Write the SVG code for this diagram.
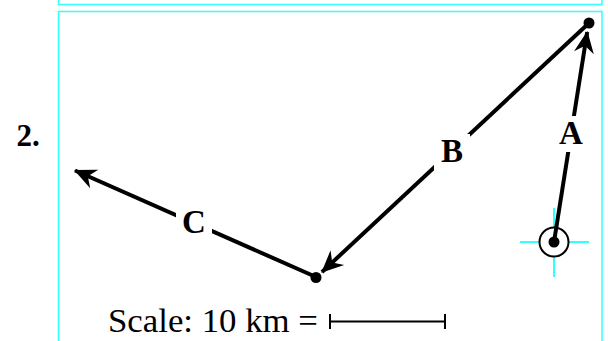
<svg xmlns="http://www.w3.org/2000/svg" width="608" height="341" viewBox="0 0 608 341">
<style>
.frame{fill:none;stroke:#33ffff;stroke-width:1.5}
.vec{stroke:#000;stroke-width:4;fill:none}
.bg{fill:#fff}
.cross{stroke:#33ffff;stroke-width:2}
</style>
<defs>
<marker id="arr" markerUnits="userSpaceOnUse" viewBox="-25 -12 27 24" refX="0" refY="0" markerWidth="27" markerHeight="24" orient="auto">
<path d="M1,0 L-21,-10 L-14,0 L-21,10 Z" fill="#000"/>
</marker>
</defs>
<g id="frames">
<rect class="frame" x="58.5" y="-10" width="543.5" height="14.5"/>
<rect class="frame" x="58.5" y="11.5" width="543.5" height="340"/>
</g>
<text id="num" x="28" y="146" font-family="Liberation Serif, serif" font-weight="bold" font-size="31" text-anchor="middle">2.</text>
<g id="target">
<line class="cross" x1="520" y1="242" x2="589" y2="242"/>
<line class="cross" x1="554" y1="208" x2="554" y2="277"/>
<circle cx="554" cy="242" r="14.5" fill="#fff" stroke="#000" stroke-width="2"/>
</g>
<g id="connectors">
<line class="vec" x1="554" y1="242" x2="587.2" y2="32" marker-end="url(#arr)"/>
<line class="vec" x1="589" y1="23" x2="322" y2="272" marker-end="url(#arr)"/>
<line class="vec" x1="316" y1="277" x2="75" y2="170.5" marker-end="url(#arr)"/>
</g>
<g id="dots">
<circle cx="554" cy="242" r="5.5" fill="#000"/>
<circle cx="589" cy="23" r="5.5" fill="#000"/>
<circle cx="316" cy="277.5" r="5.5" fill="#000"/>
</g>
<g id="labelA"><rect class="bg" x="553" y="116" width="36" height="36"/><text x="571" y="144" font-family="Liberation Serif, serif" font-weight="bold" font-size="33" text-anchor="middle">A</text></g>
<g id="labelB"><rect class="bg" x="434" y="134" width="36" height="36"/><text x="452" y="162" font-family="Liberation Serif, serif" font-weight="bold" font-size="33" text-anchor="middle">B</text></g>
<g id="labelC"><rect class="bg" x="176" y="205" width="36" height="36"/><text x="194" y="233" font-family="Liberation Serif, serif" font-weight="bold" font-size="33" text-anchor="middle">C</text></g>
<g id="scale">
<text x="108" y="332" font-family="Liberation Serif, serif" font-size="33" textLength="210" lengthAdjust="spacingAndGlyphs">Scale: 10 km =</text>
<line x1="330" y1="321.5" x2="445" y2="321.5" stroke="#000" stroke-width="2"/>
<line x1="330" y1="314" x2="330" y2="329" stroke="#000" stroke-width="2"/>
<line x1="445" y1="314" x2="445" y2="329" stroke="#000" stroke-width="2"/>
</g>
</svg>
